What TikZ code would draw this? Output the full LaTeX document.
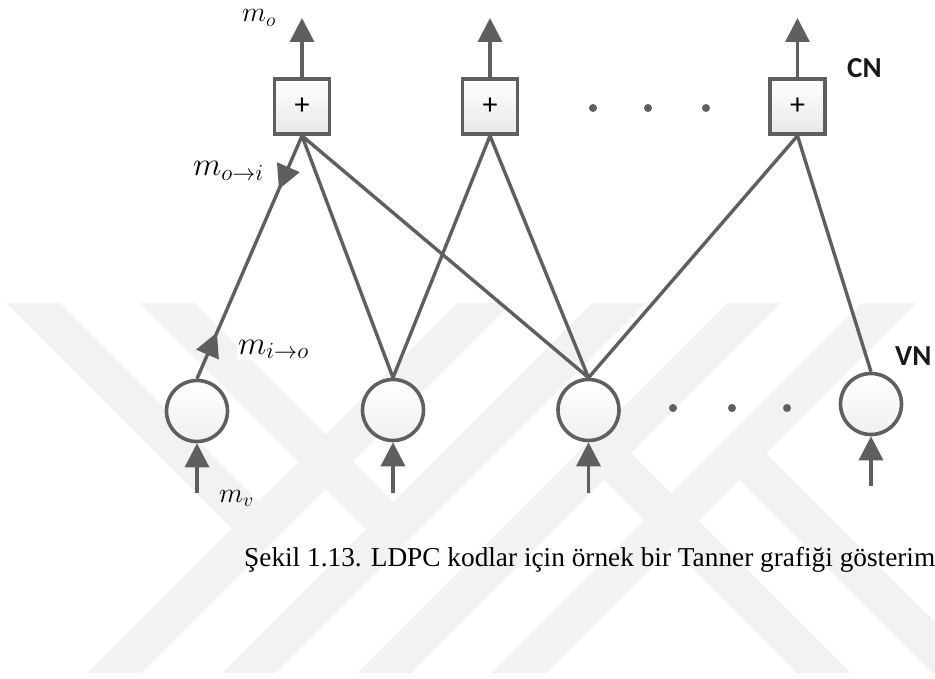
\RequirePackage{fix-cm}
\documentclass[tikz,border=0pt]{standalone}
\usepackage{fontspec}
\setmainfont{Liberation Serif}
\newfontfamily\labelfont{Carlito}
\usetikzlibrary{arrows.meta,decorations.markings}

\definecolor{edgegray}{HTML}{5F5F5F}
\definecolor{markgray}{HTML}{F2F2F2}

\tikzset{
  headtip/.tip={Triangle[length=24pt,width=24pt]},
}

\begin{document}
\begin{tikzpicture}[x=1pt,y=-1pt,
  wire/.style={color=edgegray,line width=3.4pt},
  arrowwire/.style={wire,-{headtip}},
  checkbox/.style={rectangle,draw=edgegray,line width=3.6pt,minimum size=55pt,
    inner sep=0pt,top color=white,bottom color=black!9,
    font=\labelfont\fontsize{30}{30}\selectfont},
  varnode/.style={circle,draw=edgegray,line width=3.6pt,minimum size=61pt,
    inner sep=0pt,top color=white,bottom color=black!6},
  mlabel/.style={inner sep=0pt,anchor=base west},
  sidelabel/.style={inner sep=0pt,anchor=base west,text=black!90,
    font=\labelfont\bfseries\fontsize{29}{29}\selectfont},
  dotmark/.style={circle,fill=edgegray,inner sep=0pt,minimum size=8pt},
  wmark/.style={fill=markgray},
  midarrows/.style 2 args={postaction={decorate},
    decoration={markings,
      mark=at position #1 with {\arrow{headtip}},
      mark=at position #2 with {\arrowreversed{headtip}}}}
]
\useasboundingbox (0,0) rectangle (935,679);

% faint background emblem made of slanted stripes
\begin{scope}
  \clip (0,0) rectangle (935,679);
  \fill[wmark] (87,673) -- (141,673) -- (511,303) -- (457,303) -- cycle;
  \fill[wmark] (222,673) -- (276,673) -- (646,303) -- (592,303) -- cycle;
  \fill[wmark] (357,673) -- (411,673) -- (781,303) -- (727,303) -- cycle;
  \fill[wmark] (492,673) -- (546,673) -- (916,303) -- (862,303) -- cycle;
  \fill[wmark] (6,303) -- (60,303) -- (285.5,528.5) -- (231.5,528.5) -- cycle;
  \fill[wmark] (140,303) -- (194,303) -- (420,529) -- (366,529) -- cycle;
  \fill[wmark] (797,673) -- (851,673) -- (631,453) -- (577,453) -- cycle;
  \fill[wmark] (932,673) -- (986,673) -- (766,453) -- (712,453) -- cycle;
\end{scope}

% check nodes
\node[checkbox] (c1) at (302,106.5) {+};
\node[checkbox] (c2) at (490,106.5) {+};
\node[checkbox] (c3) at (797.5,106.5) {+};

% variable nodes
\node[varnode] (v1) at (197,411) {};
\node[varnode] (v2) at (393,410) {};
\node[varnode] (v3) at (588.5,410) {};
\node[varnode] (v4) at (871,404) {};

% edges of the graph
\draw[wire,midarrows={0.22}{0.81}] (c1.south) -- (v1.north);
\draw[wire] (c1.south) -- (v2.north);
\draw[wire] (c1.south) -- (v3.north);
\draw[wire] (c2.south) -- (v2.north);
\draw[wire] (c2.south) -- (v3.north);
\draw[wire] (c3.south) -- (v3.north);
\draw[wire] (c3.south) -- (v4.north);

% outgoing messages of the check nodes
\coordinate (o1) at (302,18);
\coordinate (o2) at (490,18);
\coordinate (o3) at (797.5,18);
\draw[arrowwire] (c1.north) -- (o1);
\draw[arrowwire] (c2.north) -- (o2);
\draw[arrowwire] (c3.north) -- (o3);

% channel inputs of the variable nodes
\coordinate (i1) at (197,493);
\coordinate (i2) at (393,493);
\coordinate (i3) at (588.5,493);
\coordinate (i4) at (871,486);
\draw[arrowwire] (i1) -- (v1.south);
\draw[arrowwire] (i2) -- (v2.south);
\draw[arrowwire] (i3) -- (v3.south);
\draw[arrowwire] (i4) -- (v4.south);

% continuation dots
\node[dotmark] (d1) at (593,108) {};
\node[dotmark] (d2) at (648,108) {};
\node[dotmark] (d3) at (706,108) {};
\node[dotmark] (d4) at (673,408) {};
\node[dotmark] (d5) at (732,408) {};
\node[dotmark] (d6) at (787,408) {};

% message labels
\node[mlabel,font=\fontsize{28}{28}\selectfont] (lo) at (242,22) {$m_o$};
\node[mlabel,font=\fontsize{33}{33}\selectfont] (loi) at (193,176) {$m_{o\to i}$};
\node[mlabel,font=\fontsize{33}{33}\selectfont,fill=white,inner sep=1pt] (lio) at (237,354) {$m_{i\to o}$};
\node[mlabel,font=\fontsize{28}{28}\selectfont] (lv) at (219,502) {$m_v$};

% layer labels
\node[sidelabel] (cn) at (847,78) {CN};
\node[sidelabel] (vn) at (895,365) {VN};

% caption
\node[anchor=base west,inner sep=0pt,font=\fontsize{27.3}{30}\selectfont] (cap) at (244,566)
  {Şekil 1.13. LDPC kodlar için örnek bir Tanner grafiği gösterim};
\end{tikzpicture}
\end{document}
